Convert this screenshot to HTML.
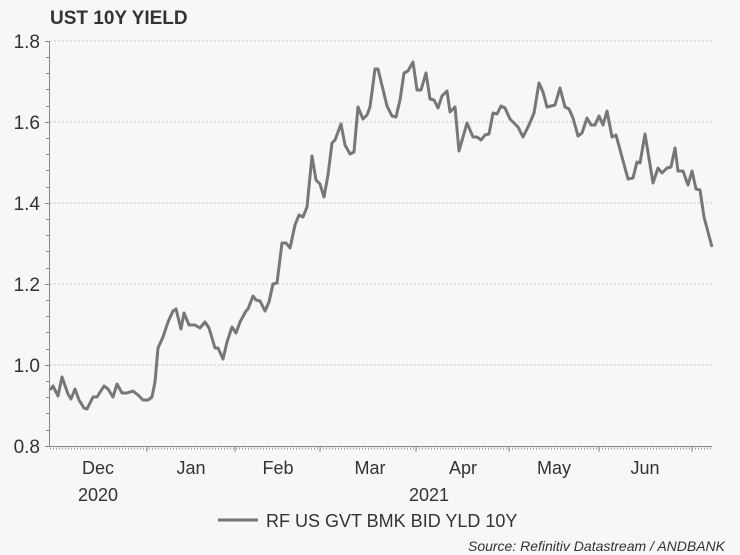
<!DOCTYPE html>
<html><head><meta charset="utf-8"><style>
html,body{margin:0;padding:0;background:#f7f7f7}
svg{display:block;font-family:"Liberation Sans",Arial,sans-serif}
</style></head><body>
<svg width="740" height="555" viewBox="0 0 740 555" xmlns="http://www.w3.org/2000/svg">
<rect width="740" height="555" fill="#f7f7f7"/>
<text x="50" y="24" font-size="19" font-weight="bold" fill="#333">UST 10Y YIELD</text>
<g stroke="#c8c8c8" stroke-width="1" stroke-dasharray="2,2">
<line x1="50" y1="41" x2="712" y2="41"/>
<line x1="50" y1="122" x2="712" y2="122"/>
<line x1="50" y1="203" x2="712" y2="203"/>
<line x1="50" y1="284" x2="712" y2="284"/>
<line x1="50" y1="365" x2="712" y2="365"/>
</g>
<g stroke="#888" stroke-width="1">
<line x1="49.5" y1="41" x2="49.5" y2="447"/>
<line x1="49" y1="446.5" x2="712" y2="446.5"/>
<line x1="45" y1="41.5" x2="49" y2="41.5"/><line x1="45" y1="122.5" x2="49" y2="122.5"/><line x1="45" y1="203.5" x2="49" y2="203.5"/><line x1="45" y1="284.5" x2="49" y2="284.5"/><line x1="45" y1="365.5" x2="49" y2="365.5"/><line x1="45" y1="446.5" x2="49" y2="446.5"/>
<line x1="46" y1="57.5" x2="49" y2="57.5"/><line x1="46" y1="73.5" x2="49" y2="73.5"/><line x1="46" y1="89.5" x2="49" y2="89.5"/><line x1="46" y1="106.5" x2="49" y2="106.5"/>
<line x1="46" y1="138.5" x2="49" y2="138.5"/><line x1="46" y1="154.5" x2="49" y2="154.5"/><line x1="46" y1="170.5" x2="49" y2="170.5"/><line x1="46" y1="187.5" x2="49" y2="187.5"/>
<line x1="46" y1="219.5" x2="49" y2="219.5"/><line x1="46" y1="235.5" x2="49" y2="235.5"/><line x1="46" y1="251.5" x2="49" y2="251.5"/><line x1="46" y1="268.5" x2="49" y2="268.5"/>
<line x1="46" y1="300.5" x2="49" y2="300.5"/><line x1="46" y1="316.5" x2="49" y2="316.5"/><line x1="46" y1="332.5" x2="49" y2="332.5"/><line x1="46" y1="349.5" x2="49" y2="349.5"/>
<line x1="46" y1="381.5" x2="49" y2="381.5"/><line x1="46" y1="397.5" x2="49" y2="397.5"/><line x1="46" y1="413.5" x2="49" y2="413.5"/><line x1="46" y1="430.5" x2="49" y2="430.5"/>
<line x1="147" y1="446" x2="147" y2="452"/><line x1="235" y1="446" x2="235" y2="452"/><line x1="320" y1="446" x2="320" y2="452"/><line x1="416" y1="446" x2="416" y2="452"/><line x1="509" y1="446" x2="509" y2="452"/><line x1="599" y1="446" x2="599" y2="452"/><line x1="692" y1="446" x2="692" y2="452"/>
</g>
<line x1="50" y1="448.5" x2="712" y2="448.5" stroke="#999" stroke-width="2" stroke-dasharray="1,2"/>
<g font-size="19" fill="#333" text-anchor="end">
<text x="40" y="48">1.8</text><text x="40" y="129">1.6</text><text x="40" y="210">1.4</text><text x="40" y="291">1.2</text><text x="40" y="372">1.0</text><text x="40" y="453">0.8</text>
</g>
<g font-size="18" fill="#333" text-anchor="middle">
<text x="98" y="474">Dec</text><text x="98" y="501">2020</text>
<text x="191" y="474">Jan</text><text x="278" y="474">Feb</text><text x="370" y="474">Mar</text>
<text x="463" y="474">Apr</text><text x="429" y="501">2021</text>
<text x="554" y="474">May</text><text x="645" y="474">Jun</text>
</g>
<polyline fill="none" stroke="#777" stroke-width="3" stroke-linejoin="round" points="50,390 53,386 58,396 62,377 68,394 71,399 75,389 79,400 84,408 87,409 93,397 97,397 104,386 108,389 113,397 117,384 122,393 127,393 133,391 138,395 143,400 148,400 152,397 155,382 158,348 163,337 168,322 173,311 176,309 181,329 184,313 189,325 195,325 200,328 205,322 209,328 215,348 218,348 223,359 227,342 232,327 236,333 240,322 246,311 248,309 253,296 256,300 260,301 265,311 269,302 273,284 277,283 282,243 286,243 290,248 295,225 299,215 303,217 307,207 312,156 316,180 320,184 324,197 328,175 332,143 335,140 341,124 345,145 350,154 354,152 358,107 363,119 367,115 370,107 375,69 378,69 387,106 392,116 396,117 400,100 404,73 408,71 413,62 417,90 421,90 426,73 430,99 434,100 438,108 442,96 447,91 450,112 455,107 459,151 467,123 473,137 477,137 481,140 485,135 489,134 493,113 497,114 501,106 505,108 510,119 518,127 523,137 529,125 534,113 539,83 543,92 547,107 555,105 560,88 565,107 569,109 573,118 578,136 582,133 587,118 591,125 595,125 599,116 603,125 607,111 612,137 616,135 628,179 633,178 637,162 640,163 645,134 653,183 658,168 662,173 667,168 671,167 675,148 678,171 683,171 688,185 692,171 696,189 700,190 704,217 712,247"/>
<line x1="218" y1="520" x2="258" y2="520" stroke="#777" stroke-width="3"/>
<text x="266" y="527" font-size="18" fill="#333">RF US GVT BMK BID YLD 10Y</text>
<text x="725" y="551" font-size="14" font-style="italic" fill="#333" text-anchor="end">Source: Refinitiv Datastream / ANDBANK</text>
</svg>
</body></html>
